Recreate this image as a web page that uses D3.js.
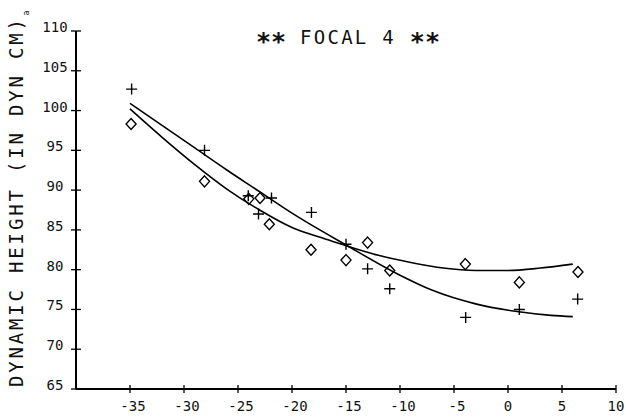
<!DOCTYPE html>
<html><head><meta charset="utf-8">
<script src="https://cdn.jsdelivr.net/npm/d3@7"></script>
<style>
html,body{margin:0;padding:0;background:#fff;}
text{font-family:"DejaVu Sans Mono","Liberation Mono",monospace;fill:#111;}
</style></head>
<body><svg id="c" width="626" height="417"></svg>
<script>
// ---- data ----
const title = "** FOCAL 4 **";
const yLabel = "DYNAMIC HEIGHT (IN DYN CM)";
const xTicks = [-35, -30, -25, -20, -15, -10, -5, 0, 5, 10];
const yTicks = [65, 70, 75, 80, 85, 90, 95, 100, 105, 110];

// "+" series
const crossX = [-34.85, -28.1, -24.05, -23.1, -21.9, -18.2, -15.0, -13.0, -10.95, -3.92, 1.05, 6.45];
const crossY = [102.7, 95.0, 89.3, 87.0, 89.0, 87.2, 83.2, 80.1, 77.6, 74.0, 75.0, 76.3];
// diamond series
const diamX = [-34.9, -28.1, -24.0, -22.96, -22.1, -18.24, -15.0, -13.0, -10.95, -3.95, 1.05, 6.48];
const diamY = [98.3, 91.1, 88.9, 89.0, 85.7, 82.5, 81.2, 83.4, 79.9, 80.7, 78.4, 79.7];

// fitted curves
const crossFitX = [-35, -32, -29, -26, -23, -20, -15, -10, -7, -3, 1, 4, 6];
const crossFitY = [100.9, 98.1, 95.3, 92.5, 89.8, 87.1, 83.1, 79.3, 77.4, 75.7, 74.7, 74.25, 74.1];
const diamFitX = [-35, -32, -29, -26, -23, -20, -17, -15, -12, -9, -6, -3, 0, 3, 6];
const diamFitY = [100.2, 96.6, 93.2, 90.1, 87.5, 85.3, 83.9, 83.0, 81.8, 80.9, 80.2, 79.9, 79.9, 80.2, 80.7];

// ---- drawing ----
const svg = d3.select("#c");
const x = d3.scaleLinear().domain([-40, 10]).range([76, 616]);
const y = d3.scaleLinear().domain([65, 110]).range([389, 31]);

// axes lines
svg.append("line").attr("x1", x(-40)).attr("x2", x(10)).attr("y1", y(65)).attr("y2", y(65))
  .attr("stroke", "#000").attr("stroke-width", 2);
svg.append("line").attr("x1", x(-40)).attr("x2", x(-40)).attr("y1", y(65)).attr("y2", y(110))
  .attr("stroke", "#000").attr("stroke-width", 2);

// x ticks
const xg = svg.append("g");
xTicks.forEach(t => {
  xg.append("line").attr("x1", x(t)).attr("x2", x(t)).attr("y1", y(65) - 4).attr("y2", y(65) + 4)
    .attr("stroke", "#000").attr("stroke-width", 1.3);
  xg.append("text").attr("x", x(t) + (t < 0 ? 3 : 0)).attr("y", 411)
    .attr("text-anchor", "middle").attr("font-size", 14).text(String(t));
});
// y ticks
const yg = svg.append("g");
yTicks.forEach(t => {
  yg.append("line").attr("x1", x(-40) - 5).attr("x2", x(-40) + 5).attr("y1", y(t)).attr("y2", y(t))
    .attr("stroke", "#000").attr("stroke-width", 1.3);
  yg.append("text").attr("x", 55).attr("y", y(t) + 1)
    .attr("text-anchor", "middle").attr("font-size", 14).text(t);
});

// title
const tt = svg.append("text").attr("x", 348).attr("y", 44).attr("text-anchor", "middle")
  .attr("font-size", 19);
tt.append("tspan").attr("font-size", 25).attr("font-weight", "bold").attr("dy", 6).text(title.slice(0, 2));
tt.append("tspan").attr("dy", -6).attr("letter-spacing", 2.3).text(title.slice(2, 11));
tt.append("tspan").attr("font-size", 25).attr("font-weight", "bold").attr("dy", 6).text(title.slice(11));

// y label
svg.append("text").attr("transform", "translate(23,203) rotate(-90)")
  .attr("text-anchor", "middle").attr("font-size", 19)
  .attr("textLength", 368).attr("lengthAdjust", "spacing").text(yLabel);
svg.append("text").attr("transform", "translate(29,13) rotate(-90)")
  .attr("text-anchor", "middle").attr("font-size", 8).text("a");

// curves
const line = d3.line().x(d => x(d[0])).y(d => y(d[1])).curve(d3.curveMonotoneX);
svg.append("path").datum(crossFitX.map((v, i) => [v, crossFitY[i]]))
  .attr("d", line).attr("fill", "none").attr("stroke", "#000").attr("stroke-width", 1.6);
svg.append("path").datum(diamFitX.map((v, i) => [v, diamFitY[i]]))
  .attr("d", line).attr("fill", "none").attr("stroke", "#000").attr("stroke-width", 1.6);

// plus markers
svg.append("g").selectAll("path").data(crossX.map((v, i) => [v, crossY[i]])).join("path")
  .attr("d", d => `M${x(d[0]) - 5.5},${y(d[1])}H${x(d[0]) + 5.5}M${x(d[0])},${y(d[1]) - 5.5}V${y(d[1]) + 5.5}`)
  .attr("fill", "none").attr("stroke", "#000").attr("stroke-width", 1.4);

// diamond markers
svg.append("g").selectAll("path").data(diamX.map((v, i) => [v, diamY[i]])).join("path")
  .attr("d", d => `M${x(d[0])},${y(d[1]) - 5.5}L${x(d[0]) + 5},${y(d[1])}L${x(d[0])},${y(d[1]) + 5.5}L${x(d[0]) - 5},${y(d[1])}Z`)
  .attr("fill", "none").attr("stroke", "#000").attr("stroke-width", 1.4);
</script>
</body></html>
